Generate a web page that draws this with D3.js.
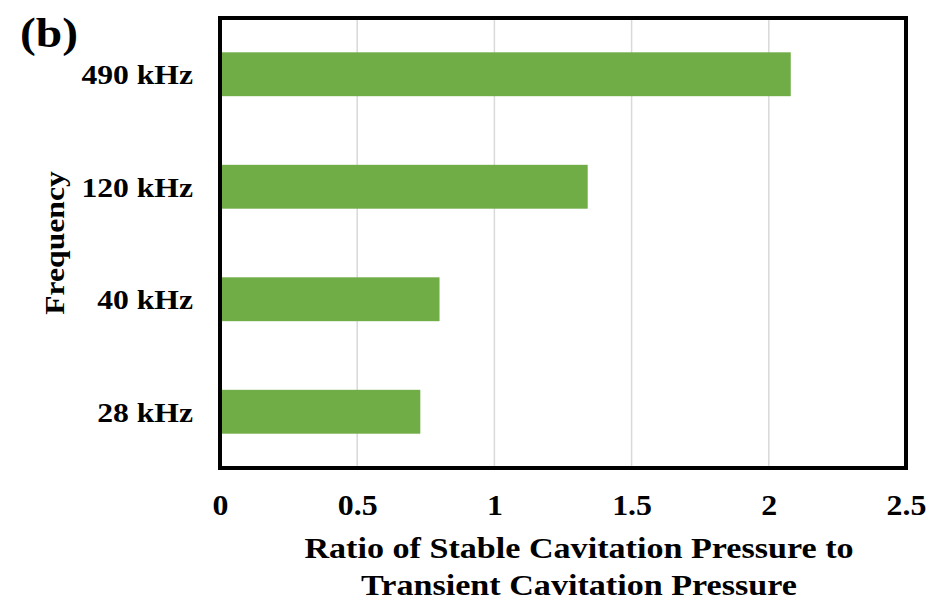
<!DOCTYPE html>
<html>
<head>
    <meta charset="utf-8">
    <title>Stable / transient cavitation pressure ratio</title>
    <style>
        body { margin: 0; background: #fff; }
        text { font-family: "Liberation Serif", "Times New Roman", serif; font-weight: bold; fill: #000; }
    </style>
    <script src="https://cdn.jsdelivr.net/npm/d3@7/dist/d3.min.js"></script>
</head>
<body>
<script>

    // data
    var frequencies = ['490 kHz', '120 kHz', '40 kHz', '28 kHz']
    var ratios = [2.08, 1.34, 0.80, 0.73]
    var xTicks = [0, 0.5, 1, 1.5, 2, 2.5]

    var view_width = 940,
        view_height = 601

    var plot = { left: 220, right: 906, top: 18, bottom: 468 }

    var svg = d3.select('body').append('svg')
        .attr('width', view_width)
        .attr('height', view_height)

    // the original lettering is a bit wider than Liberation Serif, so stretch it
    function stretch(sel, k) {
        sel.each(function () {
            var w = this.getComputedTextLength()
            d3.select(this)
                .attr('textLength', w * k)
                .attr('lengthAdjust', 'spacingAndGlyphs')
        })
    }

    var x = d3.scaleLinear()
        .domain([0, 2.5])
        .range([plot.left, plot.right])

    var y = d3.scaleBand()
        .domain(frequencies)
        .range([plot.top, plot.bottom])
        .paddingInner(0.61)
        .paddingOuter(0.305)

    // vertical gridlines
    svg.append('g')
        .selectAll('line')
        .data(xTicks.slice(1, -1))
        .enter().append('line')
        .attr('x1', d => x(d))
        .attr('x2', d => x(d))
        .attr('y1', plot.top)
        .attr('y2', plot.bottom)
        .attr('stroke', '#d9d9d9')
        .attr('stroke-width', 1.5)

    // bars
    svg.append('g')
        .selectAll('rect')
        .data(frequencies)
        .enter().append('rect')
        .attr('x', x(0))
        .attr('y', d => y(d))
        .attr('width', (d, i) => x(ratios[i]) - x(0))
        .attr('height', y.bandwidth())
        .attr('fill', '#70ad47')

    // frame
    svg.append('rect')
        .attr('x', plot.left)
        .attr('y', plot.top)
        .attr('width', plot.right - plot.left)
        .attr('height', plot.bottom - plot.top)
        .attr('fill', 'none')
        .attr('stroke', '#000')
        .attr('stroke-width', 4)

    // x axis labels
    var xAxis = d3.axisBottom(x)
        .tickValues(xTicks)
        .tickSize(0)
        .tickPadding(0)
        .tickFormat(d3.format('~g'))
    var gx = svg.append('g')
        .attr('transform', 'translate(0,' + 515 + ')')
        .call(xAxis)
    gx.select('.domain').remove()
    gx.selectAll('text')
        .attr('dy', 0)
        .style('font-size', '29px')
        .style('font-family', null)
        .call(stretch, 1.1)

    // y axis labels
    var yAxis = d3.axisLeft(y).tickSize(0).tickPadding(0)
    var gy = svg.append('g')
        .attr('transform', 'translate(193,0)')
        .call(yAxis)
    gy.select('.domain').remove()
    gy.selectAll('text')
        .attr('dy', '0.35em')
        .style('font-size', '28px')
        .style('font-family', null)
        .call(stretch, 1.13)

    // titles
    svg.append('text')
        .attr('x', 579)
        .attr('y', 558)
        .attr('text-anchor', 'middle')
        .style('font-size', '30px')
        .text('Ratio of Stable Cavitation Pressure to')
        .call(stretch, 1.137)
    svg.append('text')
        .attr('x', 579)
        .attr('y', 595)
        .attr('text-anchor', 'middle')
        .style('font-size', '30px')
        .text('Transient Cavitation Pressure')
        .call(stretch, 1.137)

    svg.append('text')
        .attr('transform', 'translate(64,' + (plot.top + plot.bottom) / 2 + ') rotate(-90)')
        .attr('text-anchor', 'middle')
        .style('font-size', '28px')
        .text('Frequency')
        .call(stretch, 1.13)

    svg.append('text')
        .attr('x', 20)
        .attr('y', 47)
        .style('font-size', '42px')
        .text('(b)')
        .call(stretch, 1.13)

</script>
</body>
</html>
